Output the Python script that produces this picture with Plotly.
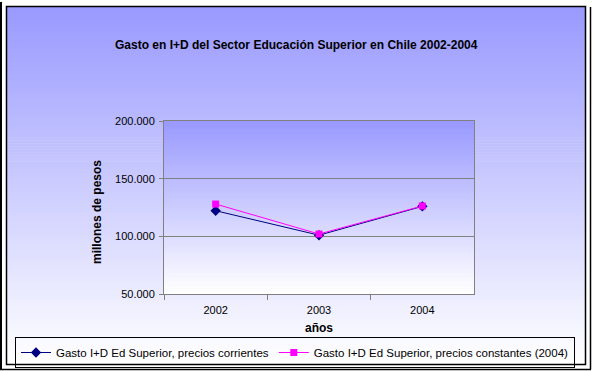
import plotly.graph_objects as go

# ---- data ----
years = ["2002", "2003", "2004"]
gasto_corrientes = [122200, 101000, 126000]
gasto_constantes = [128000, 102000, 126300]
series_names = [
    "Gasto I+D Ed Superior, precios corrientes",
    "Gasto I+D Ed Superior, precios constantes (2004)",
]
y_ticks = [50000, 100000, 150000, 200000]
title_text = "Gasto en I+D del Sector Educación Superior en Chile 2002-2004"

# ---- geometry (pixels) ----
W, H = 595, 371
PL, PR, PT, PB = 164, 474, 121, 294  # plot area


def px_x(px):
    return px / W


def px_y(py):
    return 1 - py / H


def mix(t):
    # t=0 -> #9999FF, t=1 -> white
    c = int(round(153 + (255 - 153) * t))
    return f"rgb({c},{c},255)"


shapes = []
# outer chart area gradient
n = 120
top, bot = 6, 364
for i in range(n):
    y0 = top + (bot - top) * i / n
    y1 = top + (bot - top) * (i + 1) / n + 0.6
    shapes.append(dict(type="rect", xref="paper", yref="paper",
                       x0=px_x(6), x1=px_x(585), y0=px_y(y0), y1=px_y(min(y1, bot)),
                       fillcolor=mix(i / (n - 1)), line=dict(width=0), layer="below"))
# plot area gradient
n2 = 90
for i in range(n2):
    y0 = PT + (PB - PT) * i / n2
    y1 = PT + (PB - PT) * (i + 1) / n2 + 0.6
    shapes.append(dict(type="rect", xref="paper", yref="paper",
                       x0=px_x(PL), x1=px_x(PR), y0=px_y(y0), y1=px_y(min(y1, PB)),
                       fillcolor=mix(i / (n2 - 1)), line=dict(width=0), layer="below"))
# chart frame + shadow lines
shapes.append(dict(type="rect", xref="paper", yref="paper",
                   x0=px_x(6.5), x1=px_x(585.5), y0=px_y(6.5), y1=px_y(364.5),
                   line=dict(color="black", width=1.5), fillcolor="rgba(0,0,0,0)", layer="above"))
shapes.append(dict(type="line", xref="paper", yref="paper",
                   x0=px_x(1), x1=px_x(1), y0=px_y(2), y1=px_y(369.5),
                   line=dict(color="black", width=2)))
shapes.append(dict(type="line", xref="paper", yref="paper",
                   x0=px_x(0), x1=px_x(591), y0=px_y(369.5), y1=px_y(369.5),
                   line=dict(color="black", width=1.5)))
shapes.append(dict(type="line", xref="paper", yref="paper",
                   x0=px_x(590.5), x1=px_x(590.5), y0=px_y(7), y1=px_y(369.5),
                   line=dict(color="black", width=1.5)))

font_family = "Liberation Sans, Arial, sans-serif"

fig = go.Figure()
fig.add_trace(go.Scatter(
    x=years, y=gasto_corrientes, name=series_names[0], mode="lines+markers",
    line=dict(color="#000080", width=1),
    marker=dict(symbol="diamond", size=8, color="#000080"),
))
fig.add_trace(go.Scatter(
    x=years, y=gasto_constantes, name=series_names[1], mode="lines+markers",
    line=dict(color="#FF00FF", width=1),
    marker=dict(symbol="square", size=7, color="#FF00FF"),
))

fig.update_layout(
    width=W, height=H, autosize=False,
    margin=dict(l=0, r=0, t=0, b=0, pad=0, autoexpand=False),
    paper_bgcolor="white", plot_bgcolor="rgba(0,0,0,0)",
    separators=",.",
    font=dict(family=font_family, size=11, color="black"),
    shapes=shapes,
    showlegend=True,
    legend=dict(orientation="h", x=px_x(295), xanchor="center",
                y=px_y(337), yanchor="top",
                bordercolor="black", borderwidth=1, bgcolor="rgba(0,0,0,0)",
                font=dict(family=font_family, size=11.5), itemwidth=30,
                tracegroupgap=0),
    annotations=[
        dict(text="<b>" + title_text + "</b>", xref="paper", yref="paper",
             x=px_x(296), y=px_y(45), xanchor="center", yanchor="middle",
             showarrow=False, font=dict(family=font_family, size=12)),
        dict(text="<b>millones de pesos</b>", xref="paper", yref="paper",
             x=px_x(97), y=px_y(212), xanchor="center", yanchor="middle",
             showarrow=False, textangle=-90,
             font=dict(family=font_family, size=12)),
        dict(text="<b>años</b>", xref="paper", yref="paper",
             x=px_x(319), y=px_y(328), xanchor="center", yanchor="middle",
             showarrow=False, font=dict(family=font_family, size=12)),
    ],
)
fig.update_xaxes(
    type="category", tickson="boundaries", ticks="outside", ticklen=5,
    range=[-0.5, len(years) - 0.5],
    domain=[px_x(PL), px_x(PR)],
    tickcolor="#808080", showline=True, linecolor="#808080", linewidth=1,
    mirror=True, showgrid=False, tickfont=dict(size=11), ticklabelstandoff=6,
)
fig.update_yaxes(
    range=[50000, 200000], tickvals=y_ticks, tickformat=",d",
    domain=[px_y(PB), px_y(PT)],
    ticks="outside", ticklen=4, tickcolor="#808080",
    showline=True, linecolor="#808080", linewidth=1, mirror=True,
    showgrid=True, gridcolor="#808080", gridwidth=1, zeroline=False,
    tickfont=dict(size=11), ticklabelstandoff=2,
)

fig.write_html("out.html", config={"displayModeBar": False},
               post_script="document.body.style.margin='0px';")
